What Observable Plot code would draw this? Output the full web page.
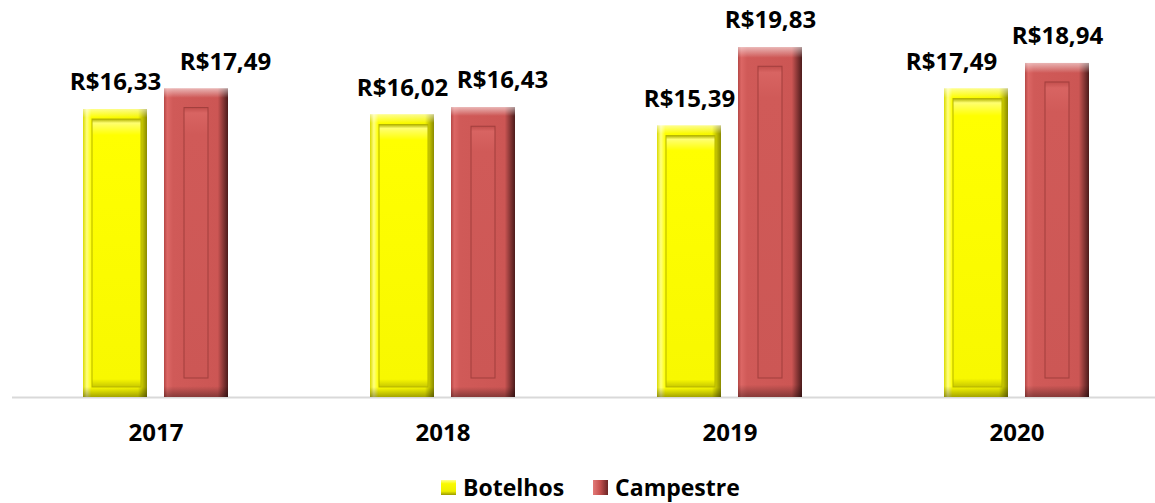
<!DOCTYPE html>
<html>
<head>
<meta charset="utf-8">
<script src="https://cdn.jsdelivr.net/npm/d3@7"></script>
<script src="https://cdn.jsdelivr.net/npm/@observablehq/plot@0.6"></script>
<style>
  html, body { margin: 0; padding: 0; background: #ffffff; overflow: hidden; }
  #chart { width: 1155px; height: 503px; }
  .lg-swatch { margin-right: 29px !important; line-height: 1; }
  .lg-swatch > svg { margin-right: 7px !important; }
</style>
</head>
<body>
<div id="chart"></div>
<script>
const years = ["2017", "2018", "2019", "2020"];
const seriesNames = ["Botelhos", "Campestre"];
const botelhos = [16.33, 16.02, 15.39, 17.49];
const campestre = [17.49, 16.43, 19.83, 18.94];

const rows = years.flatMap((y, i) => [
  {year: y, series: seriesNames[0], value: botelhos[i]},
  {year: y, series: seriesNames[1], value: campestre[i]}
]);
const bot = rows.filter(d => d.series === "Botelhos");
const cam = rows.filter(d => d.series === "Campestre");
const fmt = v => "R$" + v.toFixed(2).replace(".", ",");

// label nudges (mark option) so that neighbouring labels do not collide, as in the original
const nudge = {"2017|Campestre": 29, "2018|Campestre": 19, "2020|Botelhos": -25};

const FONT = "'Open Sans', 'DejaVu Sans', sans-serif";
const common = {fx: "year", x: "series", y: "value"};

const labelMarks = rows.map(r => Plot.text([r], {
  ...common, text: d => fmt(d.value), dy: -27, dx: nudge[r.year + "|" + r.series] || 0,
  lineAnchor: "middle", fill: "#000", fontSize: 24, fontWeight: "bold"
}));

const chart = Plot.plot({
  width: 1155,
  height: 472,
  marginTop: 9,
  marginBottom: 75,
  marginLeft: 10,
  marginRight: 0,
  style: {fontFamily: FONT, fontSize: "24px", fontWeight: "bold", color: "#000", background: "#fff"},
  fx: {domain: years, range: [10, 1161], padding: 0, label: null},
  x: {domain: seriesNames, paddingInner: 0.207, paddingOuter: 0.86, axis: null},
  y: {domain: [0, 22], axis: null},
  marks: [
    Plot.ruleY([0], {stroke: "#d9d9d9", strokeWidth: 2}),
    // Botelhos (yellow) bevelled bars
    Plot.barY(bot, {...common, fill: "url(#yH)"}),
    Plot.barY(bot, {...common, fill: "url(#ovV)"}),
    Plot.barY(bot, {...common, insetLeft: 9, insetRight: 6, insetTop: 10, insetBottom: 10, fill: "url(#yI)", stroke: "#b5b500", strokeWidth: 1}),
    // Campestre (red) bevelled bars
    Plot.barY(cam, {...common, fill: "url(#rH)"}),
    Plot.barY(cam, {...common, fill: "url(#ovV)"}),
    Plot.barY(cam, {...common, insetLeft: 20, insetRight: 20, insetTop: 19, insetBottom: 19, fill: "url(#rI)", stroke: "#a13f3d", strokeWidth: 1}),
    // value labels
    ...labelMarks,
    Plot.axisFx({anchor: "bottom", tickSize: 0, tickPadding: 26, label: null, fontSize: 24, fontWeight: "bold"})
  ]
});

// gradient definitions for the bevel effect
const defs = d3.select(chart).insert("defs", ":first-child");
function grad(id, horizontal, stops) {
  const g = defs.append("linearGradient").attr("id", id)
    .attr("x1", 0).attr("y1", 0).attr("x2", horizontal ? 1 : 0).attr("y2", horizontal ? 0 : 1);
  for (const [o, c, op] of stops) {
    g.append("stop").attr("offset", o).attr("stop-color", c).attr("stop-opacity", op === undefined ? 1 : op);
  }
}
grad("yH", true, [[0, "#dada00"], [0.06, "#ffff80"], [0.13, "#ffff00"], [0.86, "#f6f600"], [1, "#8a8a00"]]);
grad("yI", false, [[0, "#b0b000"], [0.015, "#ffff70"], [0.06, "#ffff00"], [0.97, "#f8f800"], [1, "#c8c800"]]);
grad("rH", true, [[0, "#b44644"], [0.05, "#dc6765"], [0.14, "#d05a58"], [0.84, "#cc5654"], [1, "#4c1b1b"]]);
grad("rI", false, [[0, "#c24e4c"], [0.02, "#d86462"], [0.1, "#d05a58"], [1, "#cc5755"]]);
grad("ovV", false, [[0, "#ffffff", 0.55], [0.03, "#ffffff", 0], [0.965, "#000000", 0], [1, "#000000", 0.35]]);
grad("legY", false, [[0, "#ffff90"], [0.25, "#fafa00"], [0.75, "#eeee00"], [1, "#9a9a00"]]);
grad("legR", true, [[0, "#e27a78"], [0.45, "#c85250"], [1, "#6a2424"]]);

const legend = Plot.legend({
  color: {type: "ordinal", domain: seriesNames, range: ["url(#legY)", "url(#legR)"]},
  swatchSize: 15,
  className: "lg",
  style: {fontFamily: FONT, fontSize: "23px", fontWeight: "bold", color: "#000", marginBottom: "0", justifyContent: "flex-start", paddingLeft: "441px", minHeight: "31px"}
});

const root = document.getElementById("chart");
root.appendChild(chart);
root.appendChild(legend);
</script>
</body>
</html>
